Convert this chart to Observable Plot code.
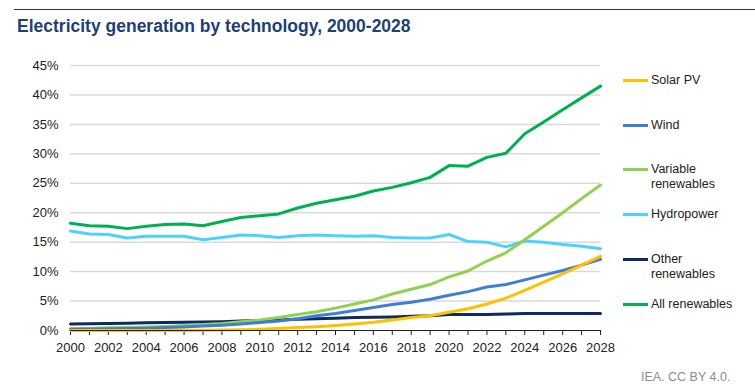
<!DOCTYPE html>
<html><head><meta charset="utf-8">
<script src="https://cdn.jsdelivr.net/npm/d3@7"></script>
<script src="https://cdn.jsdelivr.net/npm/@observablehq/plot@0.6"></script>
<style>
body{margin:0;background:#fff;font-family:"Liberation Sans",Arial,sans-serif;}
#wrap{position:relative;width:755px;height:391px;overflow:hidden;background:#fff}
#rule{position:absolute;left:14px;right:0;top:9px;border-top:1.5px solid #1F3864}
#title{position:absolute;left:17px;top:16px;font-weight:bold;font-size:17.5px;line-height:20px;color:#1F3F73;white-space:nowrap}
#chart{position:absolute;left:0;top:40px}
#legend{position:absolute;left:0;top:0}
.li{position:absolute;left:623px;font-size:12.5px;color:#222;line-height:15px}
.sw{position:absolute;left:0;width:25px;height:3px}
.lt{position:absolute;left:28px;white-space:nowrap}
#caption{position:absolute;left:641px;top:370px;font-size:12.5px;color:#8c8c8c;white-space:nowrap}
</style></head><body>
<div id="wrap">
<div id="rule"></div>
<div id="title">Electricity generation by technology, 2000-2028</div>
<div id="chart"></div>
<div id="legend"></div>
<div id="caption">IEA. CC BY 4.0.</div>
</div>
<script>
const years = [2000,2001,2002,2003,2004,2005,2006,2007,2008,2009,2010,2011,2012,2013,2014,2015,2016,2017,2018,2019,2020,2021,2022,2023,2024,2025,2026,2027,2028];
const solarPV = [0,0,0,0,0,0.01,0.02,0.03,0.08,0.12,0.2,0.35,0.5,0.65,0.85,1.1,1.4,1.8,2.2,2.5,3.1,3.7,4.5,5.5,6.8,8.2,9.6,11.1,12.6];
const wind = [0.2,0.25,0.3,0.35,0.4,0.5,0.6,0.75,0.9,1.1,1.35,1.6,2.0,2.5,2.9,3.4,3.9,4.4,4.8,5.3,6.0,6.6,7.4,7.8,8.6,9.4,10.2,11.1,12.1];
const variableRenewables = [0.3,0.35,0.45,0.5,0.6,0.7,0.85,1.0,1.2,1.5,1.8,2.2,2.7,3.2,3.8,4.5,5.2,6.2,7.0,7.8,9.1,10.1,11.8,13.2,15.4,17.7,20.0,22.4,24.7];
const hydropower = [16.9,16.4,16.3,15.7,16.0,16.0,16.0,15.4,15.8,16.2,16.1,15.8,16.1,16.2,16.1,16.0,16.1,15.8,15.7,15.7,16.3,15.1,15.0,14.2,15.2,15.0,14.6,14.3,13.9];
const otherRenewables = [1.1,1.15,1.2,1.25,1.3,1.35,1.4,1.45,1.5,1.6,1.7,1.8,1.9,2.0,2.1,2.2,2.25,2.3,2.4,2.5,2.7,2.7,2.7,2.8,2.9,2.9,2.9,2.9,2.9];
const allRenewables = [18.2,17.8,17.7,17.3,17.7,18.0,18.1,17.8,18.5,19.2,19.5,19.8,20.8,21.6,22.2,22.8,23.7,24.3,25.1,26.0,28.0,27.9,29.4,30.1,33.4,35.4,37.5,39.5,41.5];
const yTicks = [0,5,10,15,20,25,30,35,40,45];
const xLabelTicks = [2000,2002,2004,2006,2008,2010,2012,2014,2016,2018,2020,2022,2024,2026,2028];

const series = [
  {name:"Solar PV", lines:["Solar PV"], values:solarPV, color:"#FFC000"},
  {name:"Wind", lines:["Wind"], values:wind, color:"#3F7ED8"},
  {name:"Variable renewables", lines:["Variable","renewables"], values:variableRenewables, color:"#92D050"},
  {name:"Hydropower", lines:["Hydropower"], values:hydropower, color:"#4DD2FF"},
  {name:"Other renewables", lines:["Other","renewables"], values:otherRenewables, color:"#0D2A62"},
  {name:"All renewables", lines:["All renewables"], values:allRenewables, color:"#00B050"}
];
const drawOrder = ["Other renewables","Hydropower","Variable renewables","Wind","Solar PV","All renewables"];
const rows = [];
for (const n of drawOrder) {
  const s = series.find(d => d.name === n);
  years.forEach((y,i) => rows.push({year:y, value:s.values[i], name:n}));
}

const plot = Plot.plot({
  width: 755, height: 320,
  marginLeft: 70, marginRight: 155, marginTop: 25, marginBottom: 30,
  style: {fontFamily: '"Liberation Sans", Arial, sans-serif', fontSize: "13px", color: "#222", background: "#fff"},
  x: {domain: [2000, 2028]},
  y: {domain: [0, 45]},
  color: {domain: series.map(d => d.name), range: series.map(d => d.color)},
  marks: [
    Plot.ruleY(yTicks.filter(t => t > 0), {stroke: "#d9d9d9", strokeWidth: 1.5}),
    Plot.axisY(yTicks, {tickSize: 0, tickPadding: 12, tickFormat: d => d + "%", label: null, fontSize: 13, fill: "#222"}),
    Plot.axisX(years, {tickSize: 5, tickFormat: () => "", label: null, stroke: "#222"}),
    Plot.axisX(xLabelTicks, {tickSize: 0, tickPadding: 12, tickFormat: d => String(d), label: null, fontSize: 13, fill: "#222"}),
    Plot.lineY(rows, {x: "year", y: "value", z: "name", stroke: "name", strokeWidth: 3, curve: "linear"}),
    Plot.ruleY([0], {stroke: "#222", strokeWidth: 1.2})
  ]
});
document.getElementById("chart").appendChild(plot);

const legendY = {"Solar PV":80, "Wind":125.5, "Variable renewables":169.5, "Hydropower":214.5, "Other renewables":259.5, "All renewables":304};
const lg = document.getElementById("legend");
for (const s of series) {
  const cy = legendY[s.name];
  const el = document.createElement("div");
  el.className = "li";
  el.style.top = (cy - 7.5) + "px";
  el.innerHTML = `<div class="sw" style="top:6px;background:${s.color}"></div><div class="lt">${s.lines.join("<br>")}</div>`;
  lg.appendChild(el);
}
</script>
</body></html>
